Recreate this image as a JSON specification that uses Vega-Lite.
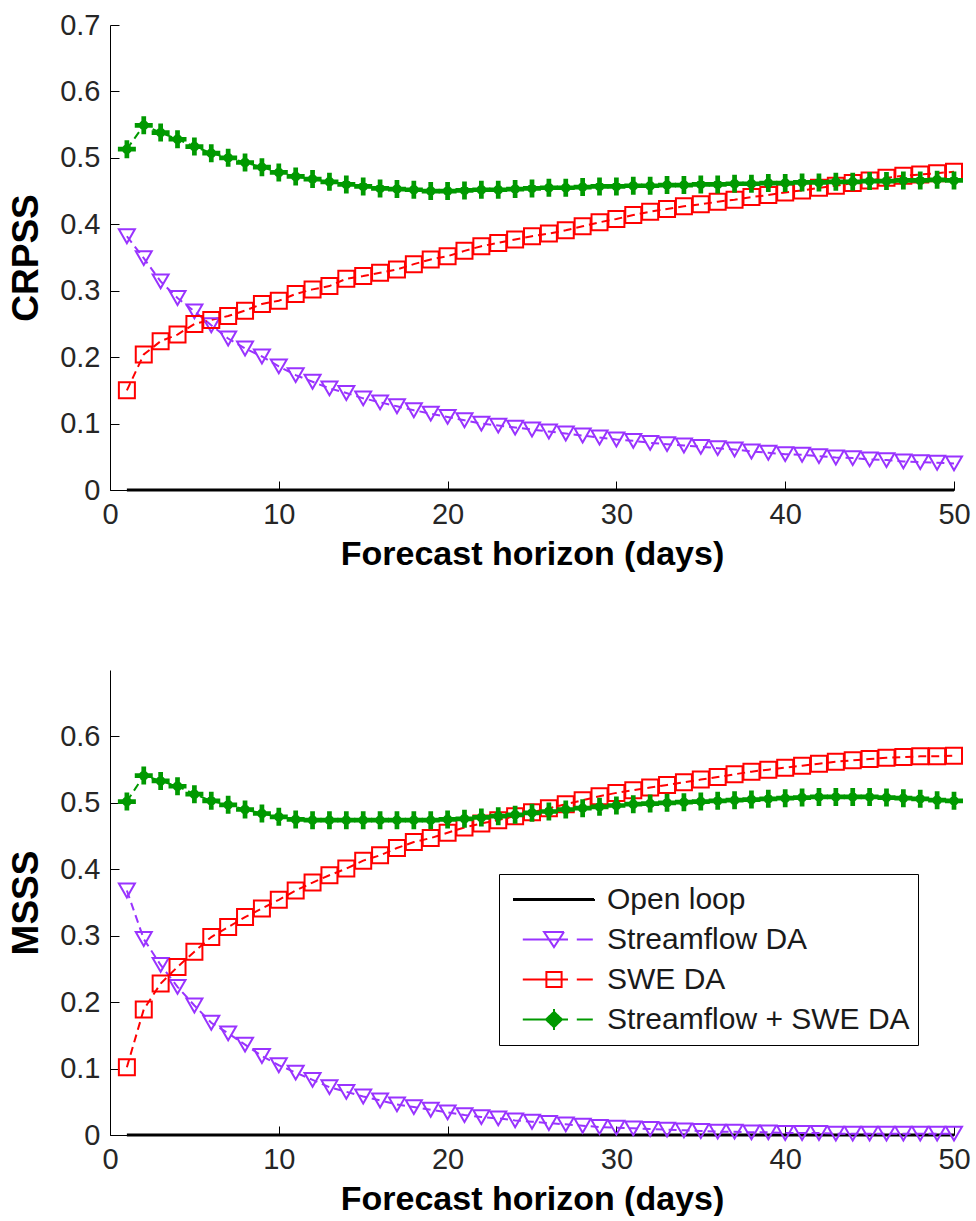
{
  "$schema": "https://vega.github.io/schema/vega-lite/v6.json",
  "background": "white",
  "padding": {"left": 7, "top": 11, "right": 0, "bottom": 0},
  "config": {
    "view": {"stroke": null},
    "font": "Liberation Sans",
    "axis": {
      "domainColor": "#000", "domainWidth": 1, "tickColor": "#000", "tickWidth": 1, "tickSize": -9,
      "labelFont": "Liberation Sans", "labelFontSize": 29, "labelColor": "#262626", "labelPadding": 19,
      "labelFlush": false, "labelOverlap": false, "grid": false,
      "titleFont": "Liberation Sans", "titleFontWeight": "bold", "titleColor": "#000"
    },
    "axisX": {"titleFontSize": 34, "titlePadding": 8},
    "axisY": {"titleFontSize": 37, "titlePadding": 14}
  },
  "data": {"values": [
    {"panel":"CRPSS","series":"Open loop","day":1,"value":0},
    {"panel":"CRPSS","series":"Open loop","day":50,"value":0},
    {"panel":"MSSS","series":"Open loop","day":1,"value":0},
    {"panel":"MSSS","series":"Open loop","day":50,"value":0},
    {"panel":"CRPSS","series":"Streamflow DA","day":1,"value":0.382},
    {"panel":"CRPSS","series":"Streamflow DA","day":2,"value":0.349},
    {"panel":"CRPSS","series":"Streamflow DA","day":3,"value":0.314},
    {"panel":"CRPSS","series":"Streamflow DA","day":4,"value":0.289},
    {"panel":"CRPSS","series":"Streamflow DA","day":5,"value":0.269},
    {"panel":"CRPSS","series":"Streamflow DA","day":6,"value":0.248},
    {"panel":"CRPSS","series":"Streamflow DA","day":7,"value":0.228},
    {"panel":"CRPSS","series":"Streamflow DA","day":8,"value":0.213},
    {"panel":"CRPSS","series":"Streamflow DA","day":9,"value":0.201},
    {"panel":"CRPSS","series":"Streamflow DA","day":10,"value":0.186},
    {"panel":"CRPSS","series":"Streamflow DA","day":11,"value":0.173},
    {"panel":"CRPSS","series":"Streamflow DA","day":12,"value":0.163},
    {"panel":"CRPSS","series":"Streamflow DA","day":13,"value":0.153},
    {"panel":"CRPSS","series":"Streamflow DA","day":14,"value":0.146},
    {"panel":"CRPSS","series":"Streamflow DA","day":15,"value":0.138},
    {"panel":"CRPSS","series":"Streamflow DA","day":16,"value":0.132},
    {"panel":"CRPSS","series":"Streamflow DA","day":17,"value":0.126},
    {"panel":"CRPSS","series":"Streamflow DA","day":18,"value":0.120},
    {"panel":"CRPSS","series":"Streamflow DA","day":19,"value":0.115},
    {"panel":"CRPSS","series":"Streamflow DA","day":20,"value":0.110},
    {"panel":"CRPSS","series":"Streamflow DA","day":21,"value":0.105},
    {"panel":"CRPSS","series":"Streamflow DA","day":22,"value":0.100},
    {"panel":"CRPSS","series":"Streamflow DA","day":23,"value":0.097},
    {"panel":"CRPSS","series":"Streamflow DA","day":24,"value":0.094},
    {"panel":"CRPSS","series":"Streamflow DA","day":25,"value":0.091},
    {"panel":"CRPSS","series":"Streamflow DA","day":26,"value":0.088},
    {"panel":"CRPSS","series":"Streamflow DA","day":27,"value":0.085},
    {"panel":"CRPSS","series":"Streamflow DA","day":28,"value":0.082},
    {"panel":"CRPSS","series":"Streamflow DA","day":29,"value":0.079},
    {"panel":"CRPSS","series":"Streamflow DA","day":30,"value":0.076},
    {"panel":"CRPSS","series":"Streamflow DA","day":31,"value":0.074},
    {"panel":"CRPSS","series":"Streamflow DA","day":32,"value":0.071},
    {"panel":"CRPSS","series":"Streamflow DA","day":33,"value":0.069},
    {"panel":"CRPSS","series":"Streamflow DA","day":34,"value":0.067},
    {"panel":"CRPSS","series":"Streamflow DA","day":35,"value":0.065},
    {"panel":"CRPSS","series":"Streamflow DA","day":36,"value":0.063},
    {"panel":"CRPSS","series":"Streamflow DA","day":37,"value":0.061},
    {"panel":"CRPSS","series":"Streamflow DA","day":38,"value":0.058},
    {"panel":"CRPSS","series":"Streamflow DA","day":39,"value":0.056},
    {"panel":"CRPSS","series":"Streamflow DA","day":40,"value":0.054},
    {"panel":"CRPSS","series":"Streamflow DA","day":41,"value":0.053},
    {"panel":"CRPSS","series":"Streamflow DA","day":42,"value":0.051},
    {"panel":"CRPSS","series":"Streamflow DA","day":43,"value":0.049},
    {"panel":"CRPSS","series":"Streamflow DA","day":44,"value":0.048},
    {"panel":"CRPSS","series":"Streamflow DA","day":45,"value":0.046},
    {"panel":"CRPSS","series":"Streamflow DA","day":46,"value":0.045},
    {"panel":"CRPSS","series":"Streamflow DA","day":47,"value":0.043},
    {"panel":"CRPSS","series":"Streamflow DA","day":48,"value":0.042},
    {"panel":"CRPSS","series":"Streamflow DA","day":49,"value":0.041},
    {"panel":"CRPSS","series":"Streamflow DA","day":50,"value":0.040},
    {"panel":"CRPSS","series":"SWE DA","day":1,"value":0.150},
    {"panel":"CRPSS","series":"SWE DA","day":2,"value":0.204},
    {"panel":"CRPSS","series":"SWE DA","day":3,"value":0.224},
    {"panel":"CRPSS","series":"SWE DA","day":4,"value":0.234},
    {"panel":"CRPSS","series":"SWE DA","day":5,"value":0.250},
    {"panel":"CRPSS","series":"SWE DA","day":6,"value":0.256},
    {"panel":"CRPSS","series":"SWE DA","day":7,"value":0.262},
    {"panel":"CRPSS","series":"SWE DA","day":8,"value":0.270},
    {"panel":"CRPSS","series":"SWE DA","day":9,"value":0.280},
    {"panel":"CRPSS","series":"SWE DA","day":10,"value":0.285},
    {"panel":"CRPSS","series":"SWE DA","day":11,"value":0.295},
    {"panel":"CRPSS","series":"SWE DA","day":12,"value":0.302},
    {"panel":"CRPSS","series":"SWE DA","day":13,"value":0.307},
    {"panel":"CRPSS","series":"SWE DA","day":14,"value":0.318},
    {"panel":"CRPSS","series":"SWE DA","day":15,"value":0.322},
    {"panel":"CRPSS","series":"SWE DA","day":16,"value":0.327},
    {"panel":"CRPSS","series":"SWE DA","day":17,"value":0.332},
    {"panel":"CRPSS","series":"SWE DA","day":18,"value":0.340},
    {"panel":"CRPSS","series":"SWE DA","day":19,"value":0.347},
    {"panel":"CRPSS","series":"SWE DA","day":20,"value":0.352},
    {"panel":"CRPSS","series":"SWE DA","day":21,"value":0.360},
    {"panel":"CRPSS","series":"SWE DA","day":22,"value":0.367},
    {"panel":"CRPSS","series":"SWE DA","day":23,"value":0.372},
    {"panel":"CRPSS","series":"SWE DA","day":24,"value":0.377},
    {"panel":"CRPSS","series":"SWE DA","day":25,"value":0.382},
    {"panel":"CRPSS","series":"SWE DA","day":26,"value":0.386},
    {"panel":"CRPSS","series":"SWE DA","day":27,"value":0.391},
    {"panel":"CRPSS","series":"SWE DA","day":28,"value":0.397},
    {"panel":"CRPSS","series":"SWE DA","day":29,"value":0.403},
    {"panel":"CRPSS","series":"SWE DA","day":30,"value":0.408},
    {"panel":"CRPSS","series":"SWE DA","day":31,"value":0.414},
    {"panel":"CRPSS","series":"SWE DA","day":32,"value":0.419},
    {"panel":"CRPSS","series":"SWE DA","day":33,"value":0.423},
    {"panel":"CRPSS","series":"SWE DA","day":34,"value":0.427},
    {"panel":"CRPSS","series":"SWE DA","day":35,"value":0.430},
    {"panel":"CRPSS","series":"SWE DA","day":36,"value":0.434},
    {"panel":"CRPSS","series":"SWE DA","day":37,"value":0.437},
    {"panel":"CRPSS","series":"SWE DA","day":38,"value":0.441},
    {"panel":"CRPSS","series":"SWE DA","day":39,"value":0.444},
    {"panel":"CRPSS","series":"SWE DA","day":40,"value":0.448},
    {"panel":"CRPSS","series":"SWE DA","day":41,"value":0.451},
    {"panel":"CRPSS","series":"SWE DA","day":42,"value":0.455},
    {"panel":"CRPSS","series":"SWE DA","day":43,"value":0.458},
    {"panel":"CRPSS","series":"SWE DA","day":44,"value":0.462},
    {"panel":"CRPSS","series":"SWE DA","day":45,"value":0.466},
    {"panel":"CRPSS","series":"SWE DA","day":46,"value":0.470},
    {"panel":"CRPSS","series":"SWE DA","day":47,"value":0.473},
    {"panel":"CRPSS","series":"SWE DA","day":48,"value":0.475},
    {"panel":"CRPSS","series":"SWE DA","day":49,"value":0.477},
    {"panel":"CRPSS","series":"SWE DA","day":50,"value":0.479},
    {"panel":"CRPSS","series":"Streamflow + SWE DA","day":1,"value":0.513},
    {"panel":"CRPSS","series":"Streamflow + SWE DA","day":2,"value":0.549},
    {"panel":"CRPSS","series":"Streamflow + SWE DA","day":3,"value":0.538},
    {"panel":"CRPSS","series":"Streamflow + SWE DA","day":4,"value":0.528},
    {"panel":"CRPSS","series":"Streamflow + SWE DA","day":5,"value":0.517},
    {"panel":"CRPSS","series":"Streamflow + SWE DA","day":6,"value":0.507},
    {"panel":"CRPSS","series":"Streamflow + SWE DA","day":7,"value":0.500},
    {"panel":"CRPSS","series":"Streamflow + SWE DA","day":8,"value":0.493},
    {"panel":"CRPSS","series":"Streamflow + SWE DA","day":9,"value":0.486},
    {"panel":"CRPSS","series":"Streamflow + SWE DA","day":10,"value":0.478},
    {"panel":"CRPSS","series":"Streamflow + SWE DA","day":11,"value":0.472},
    {"panel":"CRPSS","series":"Streamflow + SWE DA","day":12,"value":0.468},
    {"panel":"CRPSS","series":"Streamflow + SWE DA","day":13,"value":0.464},
    {"panel":"CRPSS","series":"Streamflow + SWE DA","day":14,"value":0.460},
    {"panel":"CRPSS","series":"Streamflow + SWE DA","day":15,"value":0.457},
    {"panel":"CRPSS","series":"Streamflow + SWE DA","day":16,"value":0.454},
    {"panel":"CRPSS","series":"Streamflow + SWE DA","day":17,"value":0.453},
    {"panel":"CRPSS","series":"Streamflow + SWE DA","day":18,"value":0.452},
    {"panel":"CRPSS","series":"Streamflow + SWE DA","day":19,"value":0.450},
    {"panel":"CRPSS","series":"Streamflow + SWE DA","day":20,"value":0.450},
    {"panel":"CRPSS","series":"Streamflow + SWE DA","day":21,"value":0.451},
    {"panel":"CRPSS","series":"Streamflow + SWE DA","day":22,"value":0.452},
    {"panel":"CRPSS","series":"Streamflow + SWE DA","day":23,"value":0.452},
    {"panel":"CRPSS","series":"Streamflow + SWE DA","day":24,"value":0.453},
    {"panel":"CRPSS","series":"Streamflow + SWE DA","day":25,"value":0.454},
    {"panel":"CRPSS","series":"Streamflow + SWE DA","day":26,"value":0.455},
    {"panel":"CRPSS","series":"Streamflow + SWE DA","day":27,"value":0.455},
    {"panel":"CRPSS","series":"Streamflow + SWE DA","day":28,"value":0.456},
    {"panel":"CRPSS","series":"Streamflow + SWE DA","day":29,"value":0.457},
    {"panel":"CRPSS","series":"Streamflow + SWE DA","day":30,"value":0.457},
    {"panel":"CRPSS","series":"Streamflow + SWE DA","day":31,"value":0.458},
    {"panel":"CRPSS","series":"Streamflow + SWE DA","day":32,"value":0.458},
    {"panel":"CRPSS","series":"Streamflow + SWE DA","day":33,"value":0.459},
    {"panel":"CRPSS","series":"Streamflow + SWE DA","day":34,"value":0.459},
    {"panel":"CRPSS","series":"Streamflow + SWE DA","day":35,"value":0.460},
    {"panel":"CRPSS","series":"Streamflow + SWE DA","day":36,"value":0.460},
    {"panel":"CRPSS","series":"Streamflow + SWE DA","day":37,"value":0.461},
    {"panel":"CRPSS","series":"Streamflow + SWE DA","day":38,"value":0.461},
    {"panel":"CRPSS","series":"Streamflow + SWE DA","day":39,"value":0.462},
    {"panel":"CRPSS","series":"Streamflow + SWE DA","day":40,"value":0.462},
    {"panel":"CRPSS","series":"Streamflow + SWE DA","day":41,"value":0.463},
    {"panel":"CRPSS","series":"Streamflow + SWE DA","day":42,"value":0.463},
    {"panel":"CRPSS","series":"Streamflow + SWE DA","day":43,"value":0.464},
    {"panel":"CRPSS","series":"Streamflow + SWE DA","day":44,"value":0.464},
    {"panel":"CRPSS","series":"Streamflow + SWE DA","day":45,"value":0.465},
    {"panel":"CRPSS","series":"Streamflow + SWE DA","day":46,"value":0.465},
    {"panel":"CRPSS","series":"Streamflow + SWE DA","day":47,"value":0.466},
    {"panel":"CRPSS","series":"Streamflow + SWE DA","day":48,"value":0.466},
    {"panel":"CRPSS","series":"Streamflow + SWE DA","day":49,"value":0.467},
    {"panel":"CRPSS","series":"Streamflow + SWE DA","day":50,"value":0.466},
    {"panel":"MSSS","series":"Streamflow DA","day":1,"value":0.368},
    {"panel":"MSSS","series":"Streamflow DA","day":2,"value":0.295},
    {"panel":"MSSS","series":"Streamflow DA","day":3,"value":0.256},
    {"panel":"MSSS","series":"Streamflow DA","day":4,"value":0.223},
    {"panel":"MSSS","series":"Streamflow DA","day":5,"value":0.195},
    {"panel":"MSSS","series":"Streamflow DA","day":6,"value":0.169},
    {"panel":"MSSS","series":"Streamflow DA","day":7,"value":0.153},
    {"panel":"MSSS","series":"Streamflow DA","day":8,"value":0.136},
    {"panel":"MSSS","series":"Streamflow DA","day":9,"value":0.119},
    {"panel":"MSSS","series":"Streamflow DA","day":10,"value":0.105},
    {"panel":"MSSS","series":"Streamflow DA","day":11,"value":0.094},
    {"panel":"MSSS","series":"Streamflow DA","day":12,"value":0.083},
    {"panel":"MSSS","series":"Streamflow DA","day":13,"value":0.072},
    {"panel":"MSSS","series":"Streamflow DA","day":14,"value":0.065},
    {"panel":"MSSS","series":"Streamflow DA","day":15,"value":0.058},
    {"panel":"MSSS","series":"Streamflow DA","day":16,"value":0.052},
    {"panel":"MSSS","series":"Streamflow DA","day":17,"value":0.046},
    {"panel":"MSSS","series":"Streamflow DA","day":18,"value":0.042},
    {"panel":"MSSS","series":"Streamflow DA","day":19,"value":0.038},
    {"panel":"MSSS","series":"Streamflow DA","day":20,"value":0.034},
    {"panel":"MSSS","series":"Streamflow DA","day":21,"value":0.030},
    {"panel":"MSSS","series":"Streamflow DA","day":22,"value":0.027},
    {"panel":"MSSS","series":"Streamflow DA","day":23,"value":0.025},
    {"panel":"MSSS","series":"Streamflow DA","day":24,"value":0.022},
    {"panel":"MSSS","series":"Streamflow DA","day":25,"value":0.020},
    {"panel":"MSSS","series":"Streamflow DA","day":26,"value":0.018},
    {"panel":"MSSS","series":"Streamflow DA","day":27,"value":0.016},
    {"panel":"MSSS","series":"Streamflow DA","day":28,"value":0.014},
    {"panel":"MSSS","series":"Streamflow DA","day":29,"value":0.012},
    {"panel":"MSSS","series":"Streamflow DA","day":30,"value":0.011},
    {"panel":"MSSS","series":"Streamflow DA","day":31,"value":0.010},
    {"panel":"MSSS","series":"Streamflow DA","day":32,"value":0.009},
    {"panel":"MSSS","series":"Streamflow DA","day":33,"value":0.008},
    {"panel":"MSSS","series":"Streamflow DA","day":34,"value":0.007},
    {"panel":"MSSS","series":"Streamflow DA","day":35,"value":0.006},
    {"panel":"MSSS","series":"Streamflow DA","day":36,"value":0.005},
    {"panel":"MSSS","series":"Streamflow DA","day":37,"value":0.005},
    {"panel":"MSSS","series":"Streamflow DA","day":38,"value":0.004},
    {"panel":"MSSS","series":"Streamflow DA","day":39,"value":0.004},
    {"panel":"MSSS","series":"Streamflow DA","day":40,"value":0.003},
    {"panel":"MSSS","series":"Streamflow DA","day":41,"value":0.003},
    {"panel":"MSSS","series":"Streamflow DA","day":42,"value":0.003},
    {"panel":"MSSS","series":"Streamflow DA","day":43,"value":0.002},
    {"panel":"MSSS","series":"Streamflow DA","day":44,"value":0.002},
    {"panel":"MSSS","series":"Streamflow DA","day":45,"value":0.002},
    {"panel":"MSSS","series":"Streamflow DA","day":46,"value":0.002},
    {"panel":"MSSS","series":"Streamflow DA","day":47,"value":0.002},
    {"panel":"MSSS","series":"Streamflow DA","day":48,"value":0.002},
    {"panel":"MSSS","series":"Streamflow DA","day":49,"value":0.002},
    {"panel":"MSSS","series":"Streamflow DA","day":50,"value":0.002},
    {"panel":"MSSS","series":"SWE DA","day":1,"value":0.102},
    {"panel":"MSSS","series":"SWE DA","day":2,"value":0.189},
    {"panel":"MSSS","series":"SWE DA","day":3,"value":0.228},
    {"panel":"MSSS","series":"SWE DA","day":4,"value":0.253},
    {"panel":"MSSS","series":"SWE DA","day":5,"value":0.276},
    {"panel":"MSSS","series":"SWE DA","day":6,"value":0.298},
    {"panel":"MSSS","series":"SWE DA","day":7,"value":0.313},
    {"panel":"MSSS","series":"SWE DA","day":8,"value":0.328},
    {"panel":"MSSS","series":"SWE DA","day":9,"value":0.341},
    {"panel":"MSSS","series":"SWE DA","day":10,"value":0.354},
    {"panel":"MSSS","series":"SWE DA","day":11,"value":0.368},
    {"panel":"MSSS","series":"SWE DA","day":12,"value":0.380},
    {"panel":"MSSS","series":"SWE DA","day":13,"value":0.391},
    {"panel":"MSSS","series":"SWE DA","day":14,"value":0.401},
    {"panel":"MSSS","series":"SWE DA","day":15,"value":0.413},
    {"panel":"MSSS","series":"SWE DA","day":16,"value":0.421},
    {"panel":"MSSS","series":"SWE DA","day":17,"value":0.432},
    {"panel":"MSSS","series":"SWE DA","day":18,"value":0.441},
    {"panel":"MSSS","series":"SWE DA","day":19,"value":0.447},
    {"panel":"MSSS","series":"SWE DA","day":20,"value":0.455},
    {"panel":"MSSS","series":"SWE DA","day":21,"value":0.463},
    {"panel":"MSSS","series":"SWE DA","day":22,"value":0.469},
    {"panel":"MSSS","series":"SWE DA","day":23,"value":0.474},
    {"panel":"MSSS","series":"SWE DA","day":24,"value":0.480},
    {"panel":"MSSS","series":"SWE DA","day":25,"value":0.486},
    {"panel":"MSSS","series":"SWE DA","day":26,"value":0.492},
    {"panel":"MSSS","series":"SWE DA","day":27,"value":0.498},
    {"panel":"MSSS","series":"SWE DA","day":28,"value":0.504},
    {"panel":"MSSS","series":"SWE DA","day":29,"value":0.510},
    {"panel":"MSSS","series":"SWE DA","day":30,"value":0.515},
    {"panel":"MSSS","series":"SWE DA","day":31,"value":0.519},
    {"panel":"MSSS","series":"SWE DA","day":32,"value":0.523},
    {"panel":"MSSS","series":"SWE DA","day":33,"value":0.527},
    {"panel":"MSSS","series":"SWE DA","day":34,"value":0.531},
    {"panel":"MSSS","series":"SWE DA","day":35,"value":0.535},
    {"panel":"MSSS","series":"SWE DA","day":36,"value":0.539},
    {"panel":"MSSS","series":"SWE DA","day":37,"value":0.543},
    {"panel":"MSSS","series":"SWE DA","day":38,"value":0.547},
    {"panel":"MSSS","series":"SWE DA","day":39,"value":0.550},
    {"panel":"MSSS","series":"SWE DA","day":40,"value":0.553},
    {"panel":"MSSS","series":"SWE DA","day":41,"value":0.556},
    {"panel":"MSSS","series":"SWE DA","day":42,"value":0.559},
    {"panel":"MSSS","series":"SWE DA","day":43,"value":0.562},
    {"panel":"MSSS","series":"SWE DA","day":44,"value":0.564},
    {"panel":"MSSS","series":"SWE DA","day":45,"value":0.566},
    {"panel":"MSSS","series":"SWE DA","day":46,"value":0.568},
    {"panel":"MSSS","series":"SWE DA","day":47,"value":0.569},
    {"panel":"MSSS","series":"SWE DA","day":48,"value":0.570},
    {"panel":"MSSS","series":"SWE DA","day":49,"value":0.570},
    {"panel":"MSSS","series":"SWE DA","day":50,"value":0.571},
    {"panel":"MSSS","series":"Streamflow + SWE DA","day":1,"value":0.502},
    {"panel":"MSSS","series":"Streamflow + SWE DA","day":2,"value":0.541},
    {"panel":"MSSS","series":"Streamflow + SWE DA","day":3,"value":0.533},
    {"panel":"MSSS","series":"Streamflow + SWE DA","day":4,"value":0.525},
    {"panel":"MSSS","series":"Streamflow + SWE DA","day":5,"value":0.513},
    {"panel":"MSSS","series":"Streamflow + SWE DA","day":6,"value":0.503},
    {"panel":"MSSS","series":"Streamflow + SWE DA","day":7,"value":0.497},
    {"panel":"MSSS","series":"Streamflow + SWE DA","day":8,"value":0.490},
    {"panel":"MSSS","series":"Streamflow + SWE DA","day":9,"value":0.484},
    {"panel":"MSSS","series":"Streamflow + SWE DA","day":10,"value":0.479},
    {"panel":"MSSS","series":"Streamflow + SWE DA","day":11,"value":0.475},
    {"panel":"MSSS","series":"Streamflow + SWE DA","day":12,"value":0.474},
    {"panel":"MSSS","series":"Streamflow + SWE DA","day":13,"value":0.474},
    {"panel":"MSSS","series":"Streamflow + SWE DA","day":14,"value":0.474},
    {"panel":"MSSS","series":"Streamflow + SWE DA","day":15,"value":0.474},
    {"panel":"MSSS","series":"Streamflow + SWE DA","day":16,"value":0.474},
    {"panel":"MSSS","series":"Streamflow + SWE DA","day":17,"value":0.474},
    {"panel":"MSSS","series":"Streamflow + SWE DA","day":18,"value":0.474},
    {"panel":"MSSS","series":"Streamflow + SWE DA","day":19,"value":0.474},
    {"panel":"MSSS","series":"Streamflow + SWE DA","day":20,"value":0.475},
    {"panel":"MSSS","series":"Streamflow + SWE DA","day":21,"value":0.476},
    {"panel":"MSSS","series":"Streamflow + SWE DA","day":22,"value":0.478},
    {"panel":"MSSS","series":"Streamflow + SWE DA","day":23,"value":0.480},
    {"panel":"MSSS","series":"Streamflow + SWE DA","day":24,"value":0.482},
    {"panel":"MSSS","series":"Streamflow + SWE DA","day":25,"value":0.485},
    {"panel":"MSSS","series":"Streamflow + SWE DA","day":26,"value":0.487},
    {"panel":"MSSS","series":"Streamflow + SWE DA","day":27,"value":0.490},
    {"panel":"MSSS","series":"Streamflow + SWE DA","day":28,"value":0.492},
    {"panel":"MSSS","series":"Streamflow + SWE DA","day":29,"value":0.494},
    {"panel":"MSSS","series":"Streamflow + SWE DA","day":30,"value":0.496},
    {"panel":"MSSS","series":"Streamflow + SWE DA","day":31,"value":0.498},
    {"panel":"MSSS","series":"Streamflow + SWE DA","day":32,"value":0.499},
    {"panel":"MSSS","series":"Streamflow + SWE DA","day":33,"value":0.500},
    {"panel":"MSSS","series":"Streamflow + SWE DA","day":34,"value":0.501},
    {"panel":"MSSS","series":"Streamflow + SWE DA","day":35,"value":0.502},
    {"panel":"MSSS","series":"Streamflow + SWE DA","day":36,"value":0.503},
    {"panel":"MSSS","series":"Streamflow + SWE DA","day":37,"value":0.504},
    {"panel":"MSSS","series":"Streamflow + SWE DA","day":38,"value":0.505},
    {"panel":"MSSS","series":"Streamflow + SWE DA","day":39,"value":0.506},
    {"panel":"MSSS","series":"Streamflow + SWE DA","day":40,"value":0.507},
    {"panel":"MSSS","series":"Streamflow + SWE DA","day":41,"value":0.508},
    {"panel":"MSSS","series":"Streamflow + SWE DA","day":42,"value":0.509},
    {"panel":"MSSS","series":"Streamflow + SWE DA","day":43,"value":0.509},
    {"panel":"MSSS","series":"Streamflow + SWE DA","day":44,"value":0.509},
    {"panel":"MSSS","series":"Streamflow + SWE DA","day":45,"value":0.509},
    {"panel":"MSSS","series":"Streamflow + SWE DA","day":46,"value":0.508},
    {"panel":"MSSS","series":"Streamflow + SWE DA","day":47,"value":0.507},
    {"panel":"MSSS","series":"Streamflow + SWE DA","day":48,"value":0.506},
    {"panel":"MSSS","series":"Streamflow + SWE DA","day":49,"value":0.504},
    {"panel":"MSSS","series":"Streamflow + SWE DA","day":50,"value":0.503}
  ]},
  "bounds": "flush",
  "spacing": 180,
  "resolve": {"legend": {"color": "independent"}},
  "vconcat": [
    {
      "width": 844, "height": 465,
      "transform": [{"filter": "datum.panel === 'CRPSS'"}],
      "encoding": {
        "x": {"field": "day", "type": "quantitative", "scale": {"domain": [0, 50], "nice": false},
              "axis": {"values": [0, 10, 20, 30, 40, 50], "title": "Forecast horizon (days)"}},
        "y": {"field": "value", "type": "quantitative", "scale": {"domain": [0, 0.7], "nice": false},
              "axis": {"values": [0, 0.1, 0.2, 0.3, 0.4, 0.5, 0.6, 0.7], "format": ".1~f", "title": "CRPSS"}},
        "color": {"field": "series", "type": "nominal",
                  "scale": {"domain": ["Open loop", "Streamflow DA", "SWE DA", "Streamflow + SWE DA"], "range": ["#000000", "#9933ff", "#ff0000", "#009900"]},
                  "legend": null}
      },
      "layer": [
        {"transform": [{"filter": "datum.series === 'Open loop'"}],
         "mark": {"type": "line", "strokeWidth": 3}, "encoding": {"order": {"field": "day"}}},
        {"transform": [{"filter": "datum.series !== 'Open loop'"}],
         "mark": {"type": "line", "strokeWidth": 2, "strokeDash": [8, 5]}, "encoding": {"order": {"field": "day"}}},
        {"transform": [{"filter": "datum.series !== 'Open loop'"}],
         "mark": {"type": "point", "filled": false, "strokeWidth": 2, "size": 256, "opacity": 1},
         "encoding": {
           "shape": {"field": "series", "type": "nominal", "scale": {"domain": ["Streamflow DA", "SWE DA", "Streamflow + SWE DA"], "range": ["triangle-down", "square", "M-0.17,-1L0.17,-1L0.17,1L-0.17,1ZM-1,-0.17L1,-0.17L1,0.17L-1,0.17ZM0,-0.66L0.66,0L0,0.66L-0.66,0Z"]}, "legend": null},
           "fill": {"field": "series", "type": "nominal", "scale": {"domain": ["Streamflow DA", "SWE DA", "Streamflow + SWE DA"], "range": ["transparent", "transparent", "#009900"]}, "legend": null}
         }}
      ]
    },
    {
      "width": 844, "height": 465,
      "transform": [{"filter": "datum.panel === 'MSSS'"}],
      "encoding": {
        "x": {"field": "day", "type": "quantitative", "scale": {"domain": [0, 50], "nice": false},
              "axis": {"values": [0, 10, 20, 30, 40, 50], "title": "Forecast horizon (days)"}},
        "y": {"field": "value", "type": "quantitative", "scale": {"domain": [0, 0.7], "nice": false},
              "axis": {"values": [0, 0.1, 0.2, 0.3, 0.4, 0.5, 0.6], "format": ".1~f", "title": "MSSS"}},
        "color": {"field": "series", "type": "nominal",
                  "scale": {"domain": ["Open loop", "Streamflow DA", "SWE DA", "Streamflow + SWE DA"], "range": ["#000000", "#9933ff", "#ff0000", "#009900"]},
                  "legend": {
                    "orient": "none", "legendX": 389, "legendY": 204, "title": null,
                    "strokeColor": "#000", "fillColor": "#fff", "padding": 8,
                    "symbolSize": 6400, "symbolStrokeWidth": 2, "symbolOffset": 6,
                    "labelOffset": 12, "clipHeight": 35, "rowPadding": 5,
                    "labelFont": "Liberation Sans", "labelFontSize": 30, "labelColor": "#1a1a1a", "labelLimit": 500,
                    "encode": {"symbols": {"update": {
                      "shape": {"signal": "datum.value === 'Open loop' ? 'M-1,-0.015L1,-0.015L1,0.015L-1,0.015Z' : datum.value === 'Streamflow DA' ? 'M-0.78,0L0.35,0M0.57,0L0.97,0M-0.25,-0.19L0.25,-0.19L0,0.19Z' : datum.value === 'SWE DA' ? 'M-0.78,0L0.35,0M0.57,0L0.97,0M-0.19,-0.19L0.19,-0.19L0.19,0.19L-0.19,0.19Z' : 'M-0.78,0L0.35,0M0.57,0L0.97,0M-0.2,0L0,-0.19L0.2,0L0,0.19ZM0,-0.26L0,0.26'"},
                      "fill": {"signal": "datum.value === 'Open loop' ? '#000000' : datum.value === 'Streamflow + SWE DA' ? '#009900' : 'transparent'"},
                      "strokeDash": {"value": [1, 0]},
                      "opacity": {"value": 1}
                    }}}
                  }}
      },
      "layer": [
        {"transform": [{"filter": "datum.series === 'Open loop'"}],
         "mark": {"type": "line", "strokeWidth": 3}, "encoding": {"order": {"field": "day"}}},
        {"transform": [{"filter": "datum.series !== 'Open loop'"}],
         "mark": {"type": "line", "strokeWidth": 2, "strokeDash": [8, 5]}, "encoding": {"order": {"field": "day"}}},
        {"transform": [{"filter": "datum.series !== 'Open loop'"}],
         "mark": {"type": "point", "filled": false, "strokeWidth": 2, "size": 256, "opacity": 1},
         "encoding": {
           "shape": {"field": "series", "type": "nominal", "scale": {"domain": ["Streamflow DA", "SWE DA", "Streamflow + SWE DA"], "range": ["triangle-down", "square", "M-0.17,-1L0.17,-1L0.17,1L-0.17,1ZM-1,-0.17L1,-0.17L1,0.17L-1,0.17ZM0,-0.66L0.66,0L0,0.66L-0.66,0Z"]}, "legend": null},
           "fill": {"field": "series", "type": "nominal", "scale": {"domain": ["Streamflow DA", "SWE DA", "Streamflow + SWE DA"], "range": ["transparent", "transparent", "#009900"]}, "legend": null}
         }}
      ]
    }
  ]
}
